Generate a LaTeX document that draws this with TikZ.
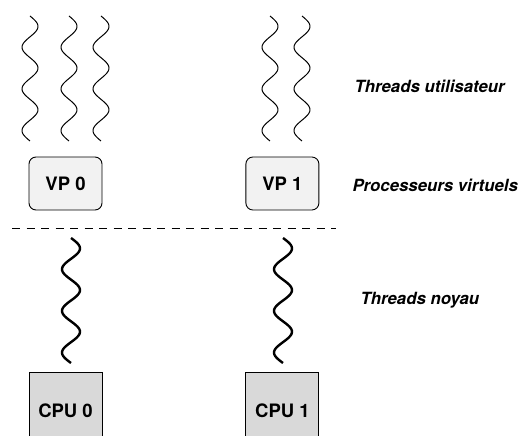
\documentclass[tikz,border=0pt]{standalone}
\usepackage{fontspec}
\setmainfont{TeX Gyre Heros}
\usetikzlibrary{positioning}

\begin{document}
\begin{tikzpicture}[x=1pt,y=-1pt,node distance=143pt,
    user thread/.style={line width=1pt},
    kernel thread/.style={line width=2.4pt},
    vp node/.style={draw,line width=0.9pt,rounded corners=7pt,fill=gray!10,minimum width=73pt,minimum height=53pt,font=\fontsize{18.5}{20}\selectfont\bfseries},
    cpu node/.style={draw,line width=0.9pt,fill=gray!30,minimum width=73pt,minimum height=78pt,font=\fontsize{18.5}{20}\selectfont\bfseries},
    layer/.style={anchor=base west,font=\fontsize{16.8}{18}\selectfont\bfseries\itshape}]

\useasboundingbox (0,0) rectangle (523,436);
\clip (0,0) rectangle (523,436);

% processeurs
\node[vp node]  (vp0)  at (65.5,183.5) {VP 0};
\node[vp node]  (vp1)  [right=of vp0]  {VP 1};
\node[cpu node] (cpu0) at (65.5,411)   {CPU 0};
\node[cpu node] (cpu1) [right=of cpu0] {CPU 1};

% threads (3 periodes sur 125pt)
\foreach \x in {30,69,101,270,302}
    \draw[user thread] plot[variable=\t,domain=0:125,samples=90,smooth] ({\x+8*sin(8.64*\t)},{16+\t});
\foreach \x in {71,283}
    \draw[kernel thread] plot[variable=\t,domain=0:125,samples=90,smooth] ({\x+9*sin(8.64*\t)},{238+\t});

\draw[line width=1pt,dash pattern=on 8pt off 6.5pt] (12,228.5) coordinate (sepl) -- (336,228.5) coordinate (sepr);

% legendes
\node[layer] (lbluser)   at (351,93)  {Threads utilisateur};
\node[layer] (lblvp)     at (349,192) {Processeurs virtuels};
\node[layer] (lblkernel) at (357,304) {Threads noyau};
\end{tikzpicture}
\end{document}
